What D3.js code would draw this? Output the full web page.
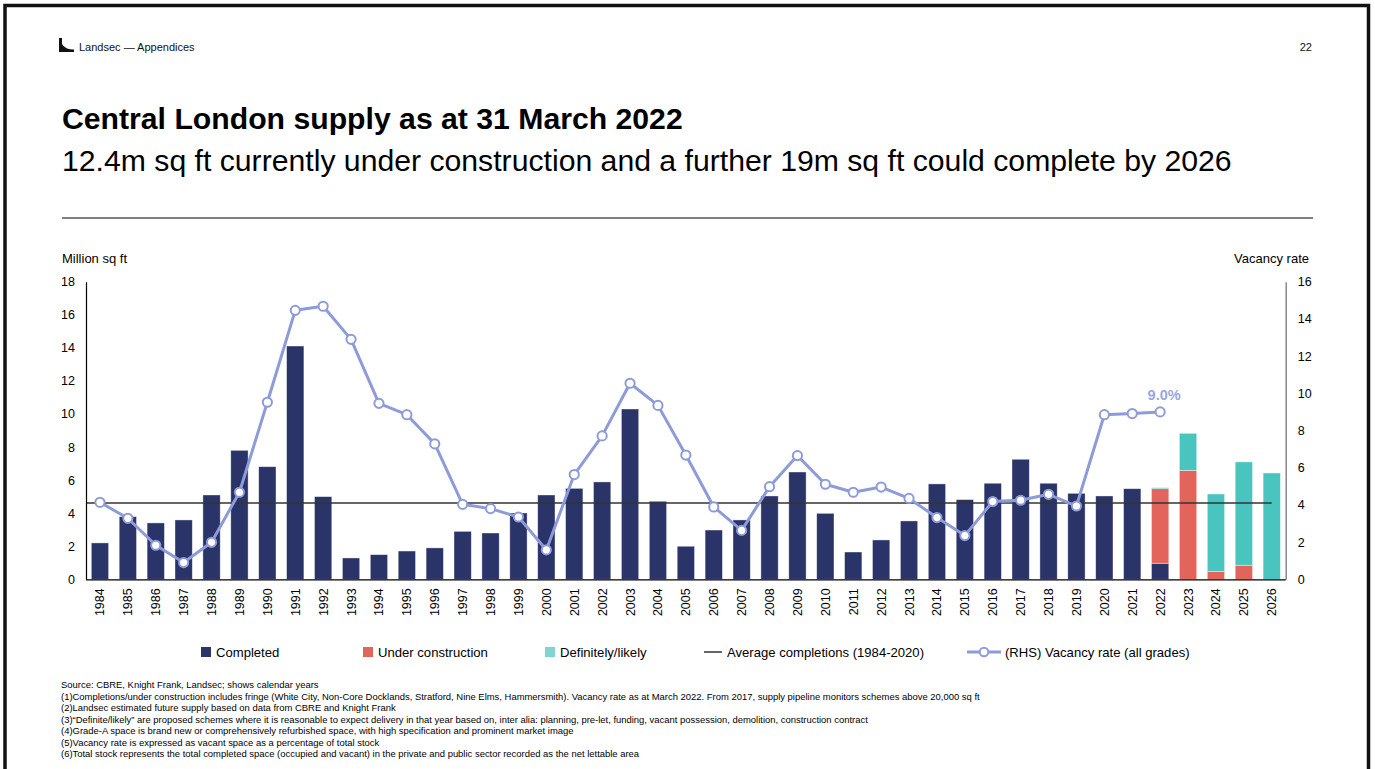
<!DOCTYPE html>
<html>
<head>
<meta charset="utf-8">
<script src="https://cdn.jsdelivr.net/npm/d3@7"></script>
<style>
  html, body { margin: 0; padding: 0; background: #fff; }
  svg { display: block; font-family: "Liberation Sans", Arial, sans-serif; }
</style>
</head>
<body>
<svg id="page" width="1375" height="769"></svg>
<script>
// Calendar years on the category axis
const years = ["1984","1985","1986","1987","1988","1989","1990","1991","1992","1993","1994","1995","1996","1997","1998","1999","2000","2001","2002","2003","2004","2005","2006","2007","2008","2009","2010","2011","2012","2013","2014","2015","2016","2017","2018","2019","2020","2021","2022","2023","2024","2025","2026"];

// Supply, million sq ft (left axis)
const completed = [2.20,3.79,3.41,3.59,5.10,7.80,6.81,14.11,5.00,1.29,1.49,1.71,1.90,2.90,2.80,4.01,5.10,5.50,5.89,10.30,4.72,2.00,2.98,3.59,5.04,6.49,3.99,1.65,2.38,3.53,5.77,4.82,5.81,7.26,5.81,5.20,5.04,5.48,0.97,0,0,0,0];
const underConstruction = [0,0,0,0,0,0,0,0,0,0,0,0,0,0,0,0,0,0,0,0,0,0,0,0,0,0,0,0,0,0,0,0,0,0,0,0,0,0,4.51,6.59,0.48,0.85,0];
const definitelyLikely = [0,0,0,0,0,0,0,0,0,0,0,0,0,0,0,0,0,0,0,0,0,0,0,0,0,0,0,0,0,0,0,0,0,0,0,0,0,0,0.06,2.24,4.68,6.25,6.43];

// Vacancy rate, % of total stock (right axis), 1984-2022
const vacancyYears = years.slice(0, 39);
const vacancyRate = [4.14,3.28,1.83,0.90,1.99,4.68,9.52,14.46,14.68,12.90,9.46,8.85,7.28,4.03,3.80,3.35,1.58,5.63,7.71,10.54,9.35,6.68,3.89,2.63,4.98,6.65,5.11,4.68,4.96,4.35,3.32,2.35,4.18,4.25,4.57,3.94,8.85,8.91,9.00];

const leftTicks = [0,2,4,6,8,10,12,14,16,18];
const rightTicks = [0,2,4,6,8,10,12,14,16];

const footnotes = [
  "Source: CBRE, Knight Frank, Landsec; shows calendar years",
  "(1)Completions/under construction includes fringe (White City, Non-Core Docklands, Stratford, Nine Elms, Hammersmith). Vacancy rate as at March 2022. From 2017, supply pipeline monitors schemes above 20,000 sq ft",
  "(2)Landsec estimated future supply based on data from CBRE and Knight Frank",
  "(3)\u201CDefinite/likely\u201D are proposed schemes where it is reasonable to expect delivery in that year based on, inter alia: planning, pre-let, funding, vacant possession, demolition, construction contract",
  "(4)Grade-A space is brand new or comprehensively refurbished space, with high specification and prominent market image",
  "(5)Vacancy rate is expressed as vacant space as a percentage of total stock",
  "(6)Total stock represents the total completed space (occupied and vacant) in the private and public sector recorded as the net lettable area"
];

const colors = {
  completed: "#2B3468",
  under: "#E2645A",
  likely: "#4AC4BF",
  likelyKey: "#7ED5D1",
  vacancy: "#8E9BD9",
  avg: "#333333"
};

const svg = d3.select("#page");

// Page frame
svg.append("path")
  .attr("d", "M5,769 V5.5 H1368.5 V769")
  .attr("fill", "none").attr("stroke", "#111").attr("stroke-width", 3.5);

// Header
svg.append("path")
  .attr("d", "M59,38 H62 V44 Q65,49.5 74,49.5 V52 H59 Z")
  .attr("fill", "#111");
svg.append("text").attr("x", 79).attr("y", 51).attr("font-size", 11).attr("fill", "#111")
  .text("Landsec \u2014 Appendices");
svg.append("text").attr("x", 1312).attr("y", 51).attr("font-size", 11).attr("fill", "#111")
  .attr("text-anchor", "end").text("22");

svg.append("text").attr("x", 62).attr("y", 129).attr("font-size", 30.2).attr("font-weight", "bold").attr("fill", "#000")
  .text("Central London supply as at 31 March 2022");
svg.append("text").attr("x", 62).attr("y", 171).attr("font-size", 30.2).attr("fill", "#000")
  .text("12.4m sq ft currently under construction and a further 19m sq ft could complete by 2026");
svg.append("line").attr("x1", 62).attr("x2", 1313).attr("y1", 218).attr("y2", 218)
  .attr("stroke", "#000").attr("stroke-width", 1);

// Chart area
const x0 = 86, x1 = 1285.7, yTop = 281.7, yBase = 579.3;

const x = d3.scaleBand().domain(years).range([x0, x1]).paddingInner(0.38).paddingOuter(0.19);
const yL = d3.scaleLinear().domain([0, 18]).range([yBase, yTop]);
const yR = d3.scaleLinear().domain([0, 16]).range([yBase, yTop]);

const rows = years.map((yr, i) => ({
  year: yr,
  completed: completed[i],
  under: underConstruction[i],
  likely: definitelyLikely[i]
}));
const stack = d3.stack().keys(["completed", "under", "likely"])(rows);
const fills = { completed: colors.completed, under: colors.under, likely: colors.likely };

const barsG = svg.append("g");
stack.forEach(layer => {
  barsG.append("g").attr("fill", fills[layer.key])
    .selectAll("rect")
    .data(layer.filter(d => d[1] - d[0] > 0))
    .join("rect")
    .attr("x", d => x(d.data.year))
    .attr("width", x.bandwidth())
    .attr("y", d => yL(d[1]))
    .attr("height", d => yL(d[0]) - yL(d[1]))
    .attr("stroke", "#fff").attr("stroke-opacity", 0.55).attr("stroke-width", 0.7);
});

// Average completions line, 1984-2020
const avgCompletions = d3.mean(completed.slice(0, years.indexOf("2020") + 1));
svg.append("line")
  .attr("x1", x0).attr("x2", x(years[years.length - 1]) + x.bandwidth() / 2)
  .attr("y1", yL(avgCompletions)).attr("y2", yL(avgCompletions))
  .attr("stroke", colors.avg).attr("stroke-width", 1.5);

// Axes
const leftAxis = svg.append("g").attr("transform", `translate(${x0},0)`)
  .call(d3.axisLeft(yL).tickValues(leftTicks).tickSize(0).tickPadding(11));
leftAxis.select(".domain").attr("stroke", "#000").attr("stroke-width", 1.2);
leftAxis.selectAll("text").attr("font-size", 12.5).attr("fill", "#000").attr("font-family", null);

const rightAxis = svg.append("g").attr("transform", `translate(${x1},0)`)
  .call(d3.axisRight(yR).tickValues(rightTicks).tickSize(0).tickPadding(12));
rightAxis.select(".domain").attr("stroke", "#888").attr("stroke-width", 1.5);
rightAxis.selectAll("text").attr("font-size", 12.5).attr("fill", "#000").attr("font-family", null);

const bottomAxis = svg.append("g").attr("transform", `translate(0,${yBase})`)
  .call(d3.axisBottom(x).tickSize(0).tickPadding(0));
bottomAxis.select(".domain").attr("d", `M${x0},0.5H${x1}`).attr("stroke", "#000").attr("stroke-width", 1.2);
bottomAxis.selectAll("text")
  .attr("font-size", 12.5).attr("fill", "#000").attr("font-family", null)
  .attr("text-anchor", "end")
  .attr("dy", null)
  .attr("transform", "translate(4.5,9) rotate(-90)");

svg.append("text").attr("x", 62).attr("y", 263).attr("font-size", 13).attr("fill", "#000").text("Million sq ft");
svg.append("text").attr("x", 1309).attr("y", 263).attr("font-size", 13).attr("fill", "#000")
  .attr("text-anchor", "end").text("Vacancy rate");

// Vacancy rate line (RHS)
const cx = yr => x(yr) + x.bandwidth() / 2;
const vac = vacancyYears.map((yr, i) => ({ year: yr, v: vacancyRate[i] }));
svg.append("path").datum(vac)
  .attr("d", d3.line().x(d => cx(d.year)).y(d => yR(d.v)))
  .attr("fill", "none").attr("stroke", colors.vacancy).attr("stroke-width", 3).attr("stroke-linejoin", "round");
svg.append("g").selectAll("circle").data(vac).join("circle")
  .attr("cx", d => cx(d.year)).attr("cy", d => yR(d.v)).attr("r", 4.6)
  .attr("fill", "#fff").attr("stroke", colors.vacancy).attr("stroke-width", 2);

const lastVac = vac[vac.length - 1];
svg.append("text")
  .attr("x", cx(lastVac.year) + 4).attr("y", yR(lastVac.v) - 12)
  .attr("text-anchor", "middle").attr("font-size", 14.5).attr("font-weight", "bold").attr("fill", "#9AA6DE")
  .text(d3.format(".1f")(lastVac.v) + "%");

// Legend
const legend = svg.append("g").attr("font-size", 13.1).attr("fill", "#000");
const ly = 652;
[
  { x: 201, label: "Completed", color: colors.completed },
  { x: 363, label: "Under construction", color: colors.under },
  { x: 545, label: "Definitely/likely", color: colors.likelyKey }
].forEach(k => {
  legend.append("rect").attr("x", k.x).attr("y", ly - 5).attr("width", 10).attr("height", 10).attr("fill", k.color);
  legend.append("text").attr("x", k.x + 15).attr("y", ly + 4.5).text(k.label);
});
legend.append("line").attr("x1", 704).attr("x2", 722).attr("y1", ly).attr("y2", ly)
  .attr("stroke", colors.avg).attr("stroke-width", 1.5);
legend.append("text").attr("x", 727).attr("y", ly + 4.5).text("Average completions (1984-2020)");
legend.append("line").attr("x1", 967).attr("x2", 1001).attr("y1", ly).attr("y2", ly)
  .attr("stroke", colors.vacancy).attr("stroke-width", 3);
legend.append("circle").attr("cx", 984).attr("cy", ly).attr("r", 4.3)
  .attr("fill", "#fff").attr("stroke", colors.vacancy).attr("stroke-width", 2);
legend.append("text").attr("x", 1005).attr("y", ly + 4.5).text("(RHS) Vacancy rate (all grades)");

// Footnotes
svg.append("g").attr("font-size", 9.45).attr("fill", "#000")
  .selectAll("text").data(footnotes).join("text")
  .attr("x", 61).attr("y", (d, i) => 688 + i * 11.5)
  .text(d => d);
</script>
</body>
</html>
